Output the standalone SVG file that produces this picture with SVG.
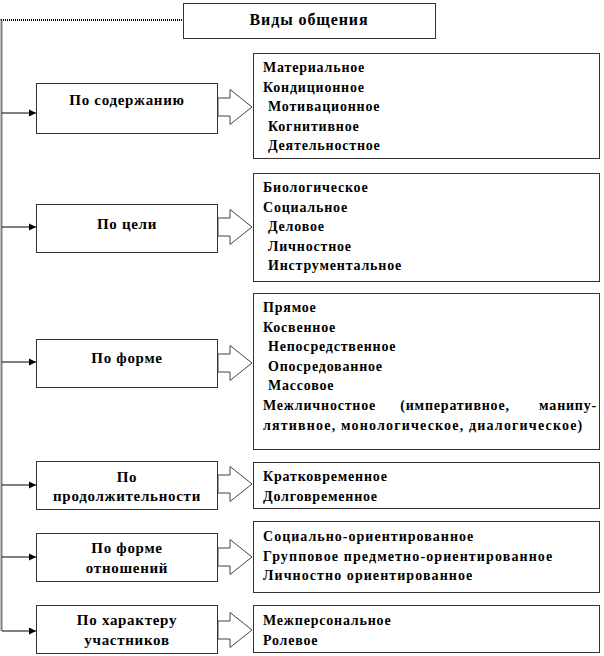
<svg xmlns="http://www.w3.org/2000/svg" width="604" height="656" viewBox="0 0 604 656">
<style>
.box{fill:#fff;stroke:#333;stroke-width:1}
.barrow{fill:#fff;stroke:#444;stroke-width:1}
.t{font-family:"Liberation Serif","Times New Roman",serif;font-weight:bold;fill:#000}
.hd{font-size:16px;letter-spacing:0.9px}
.cat{font-size:15px;letter-spacing:0.7px}
.it{font-size:14px;letter-spacing:0.8px}
.conn{stroke:#000;stroke-width:1;fill:none}
.trunk{stroke:#000;stroke-width:2;stroke-dasharray:1 1;fill:none}
</style>
<defs>
<marker id="ah" markerWidth="8" markerHeight="8" refX="7" refY="4" orient="auto" markerUnits="userSpaceOnUse">
<path d="M0,0.5 L7,4 L0,7.5 Z" fill="#000"/>
</marker>
</defs>
<rect width="604" height="656" fill="#fff"/>
<g id="connectors">
<path class="trunk" d="M184,20 H1.5 V631"/>
<path class="conn" d="M2,113 H36" marker-end="url(#ah)"/>
<path class="conn" d="M2,227 H36" marker-end="url(#ah)"/>
<path class="conn" d="M2,362 H36" marker-end="url(#ah)"/>
<path class="conn" d="M2,485 H36" marker-end="url(#ah)"/>
<path class="conn" d="M2,557 H36" marker-end="url(#ah)"/>
<path class="conn" d="M2,631 H36" marker-end="url(#ah)"/>
<polygon class="barrow" points="218,98 230,98 230,89.5 252,107 230,124.5 230,116 218,116"/>
<polygon class="barrow" points="218,218 230,218 230,209.5 252,227 230,244.5 230,236 218,236"/>
<polygon class="barrow" points="218,354 230,354 230,345.5 252,363 230,380.5 230,372 218,372"/>
<polygon class="barrow" points="218,475 230,475 230,466.5 252,484 230,501.5 230,493 218,493"/>
<polygon class="barrow" points="218,548 230,548 230,539.5 252,557 230,574.5 230,566 218,566"/>
<polygon class="barrow" points="218,621 230,621 230,612.5 252,630 230,647.5 230,639 218,639"/>
</g>
<g id="root">
<rect class="box" x="183.5" y="3.5" width="252" height="35"/>
<text class="t hd" x="309" y="25" text-anchor="middle">Виды общения</text>
</g>
<g id="cat1">
<rect class="box" x="36.5" y="83.5" width="181" height="50"/>
<text class="t cat" x="127" y="105" text-anchor="middle">По содержанию</text>
</g>
<g id="cat2">
<rect class="box" x="36.5" y="204.5" width="181" height="48"/>
<text class="t cat" x="127" y="229" text-anchor="middle">По цели</text>
</g>
<g id="cat3">
<rect class="box" x="36.5" y="339.5" width="181" height="48"/>
<text class="t cat" x="127" y="363" text-anchor="middle">По форме</text>
</g>
<g id="cat4">
<rect class="box" x="36.5" y="461.5" width="181" height="48"/>
<text class="t cat" x="127" y="482" text-anchor="middle">По</text>
<text class="t cat" x="127" y="501" text-anchor="middle">продолжительности</text>
</g>
<g id="cat5">
<rect class="box" x="36.5" y="533.5" width="181" height="48"/>
<text class="t cat" x="127" y="553" text-anchor="middle">По форме</text>
<text class="t cat" x="127" y="573" text-anchor="middle">отношений</text>
</g>
<g id="cat6">
<rect class="box" x="36.5" y="605.5" width="181" height="48"/>
<text class="t cat" x="127" y="625" text-anchor="middle">По характеру</text>
<text class="t cat" x="127" y="645" text-anchor="middle">участников</text>
</g>
<g id="list1">
<rect class="box" x="253.5" y="53.5" width="346" height="105"/>
<text class="t it" x="263" y="72">Материальное</text>
<text class="t it" x="263" y="91.5">Кондиционное</text>
<text class="t it" x="268" y="111">Мотивационное</text>
<text class="t it" x="268" y="130.5">Когнитивное</text>
<text class="t it" x="268" y="150">Деятельностное</text>
</g>
<g id="list2">
<rect class="box" x="253.5" y="173.5" width="346" height="108"/>
<text class="t it" x="263" y="192">Биологическое</text>
<text class="t it" x="263" y="211.5">Социальное</text>
<text class="t it" x="268" y="231">Деловое</text>
<text class="t it" x="268" y="250.5">Личностное</text>
<text class="t it" x="268" y="270">Инструментальное</text>
</g>
<g id="list3">
<rect class="box" x="253.5" y="293.5" width="346" height="156"/>
<text class="t it" x="263" y="312">Прямое</text>
<text class="t it" x="263" y="331.6">Косвенное</text>
<text class="t it" x="268" y="351.2">Непосредственное</text>
<text class="t it" x="268" y="370.8">Опосредованное</text>
<text class="t it" x="268" y="390.4">Массовое</text>
<text class="t it" x="263" y="410">Межличностное</text>
<text class="t it" x="455" y="410" text-anchor="middle">(императивное,</text>
<text class="t it" x="597" y="410" text-anchor="end">манипу-</text>
<text class="t it" x="263" y="430" textLength="320" lengthAdjust="spacing">лятивное,  монологическое, диалогическое)</text>
</g>
<g id="list4">
<rect class="box" x="253.5" y="462.5" width="346" height="46"/>
<text class="t it" x="263" y="481">Кратковременное</text>
<text class="t it" x="263" y="500.5">Долговременное</text>
</g>
<g id="list5">
<rect class="box" x="253.5" y="521.5" width="346" height="71"/>
<text class="t it" x="263" y="541" textLength="211" lengthAdjust="spacing">Социально-ориентированное</text>
<text class="t it" x="263" y="560.5" textLength="290" lengthAdjust="spacing">Групповое  предметно-ориентированное</text>
<text class="t it" x="263" y="580" textLength="210" lengthAdjust="spacing">Личностно  ориентированное</text>
</g>
<g id="list6">
<rect class="box" x="253.5" y="605.5" width="346" height="47"/>
<text class="t it" x="263" y="625">Межперсональное</text>
<text class="t it" x="263" y="644.5">Ролевое</text>
</g>
</svg>
